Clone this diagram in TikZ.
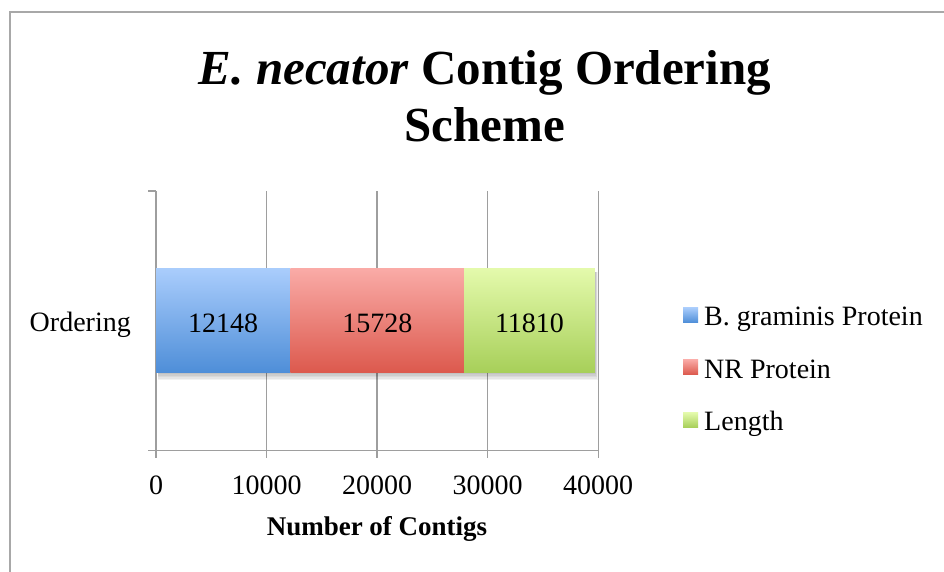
\documentclass[tikz,border=0pt]{standalone}
\usepackage{fontspec}
\setmainfont{Liberation Serif}

% palette
\definecolor{gridgray}{RGB}{158,158,158}
\definecolor{framegray}{RGB}{168,168,168}
\definecolor{blueTop}{RGB}{170,205,252}
\definecolor{blueBot}{RGB}{78,142,216}
\definecolor{redTop}{RGB}{250,171,167}
\definecolor{redBot}{RGB}{220,89,77}
\definecolor{greenTop}{RGB}{228,250,172}
\definecolor{greenBot}{RGB}{167,207,89}

\tikzset{
  frameline/.style={draw=framegray, line width=2.5pt},
  gridline/.style={draw=gridgray, line width=1.4pt},
  barseg/.style={rectangle, draw=none, inner sep=0pt, minimum height=104.4pt},
  legkey/.style={rectangle, draw=none, inner sep=0pt, minimum size=15pt},
  labeltext/.style={inner sep=0pt, font=\fontsize{28}{32}\selectfont},
  titletext/.style={inner sep=0pt, font=\fontsize{49}{57}\selectfont\bfseries},
  axistitle/.style={inner sep=0pt, font=\fontsize{27}{30}\selectfont\bfseries},
}

\begin{document}
\begin{tikzpicture}[x=1pt, y=-1pt]
\useasboundingbox (0,0) rectangle (944,571);
\fill[white] (0,0) rectangle (944,571);

% chart frame
\draw[frameline] (10,575) -- (10,12) -- (948,12);

% title
\node[titletext, anchor=base] (title1) at (485,84.3) {\textit{E. necator} Contig Ordering};
\node[titletext, anchor=base] (title2) at (485,141.7) {Scheme};

% gridlines and axes
\foreach \gx in {156,266.55,377.1,487.65,598.2}
  \draw[gridline] (\gx,191) -- (\gx,458);
\draw[gridline] (148,450.5) -- (598.2,450.5);
\draw[gridline] (148,191) -- (156,191);

% soft shadow under the bar
\foreach \k in {0,1,2,3,4}
  \fill[black, opacity=0.05] (158,272) rectangle (595.5+0.6*\k,374+1.6*\k);

% stacked bar
\node[barseg, top color=blueTop, bottom color=blueBot, minimum width=134.3pt] (bgp) at (223.15,320.5) {};
\node[barseg, top color=redTop, bottom color=redBot, minimum width=173.9pt] (nrp) at (377.25,320.5) {};
\node[barseg, top color=greenTop, bottom color=greenBot, minimum width=130.6pt] (len) at (529.5,320.5) {};

% segment values
\node[labeltext, anchor=base] (v1) at (223.15,332.5) {12148};
\node[labeltext, anchor=base] (v2) at (377.25,332.5) {15728};
\node[labeltext, anchor=base] (v3) at (529.5,332.5) {11810};

% category label
\node[labeltext, anchor=base east] (cat) at (131,331.7) {Ordering};

% value axis labels
\node[labeltext, anchor=base] (t0) at (156,494) {0};
\node[labeltext, anchor=base] (t1) at (266.55,494) {10000};
\node[labeltext, anchor=base] (t2) at (377.1,494) {20000};
\node[labeltext, anchor=base] (t3) at (487.65,494) {30000};
\node[labeltext, anchor=base] (t4) at (598.2,494) {40000};
\node[axistitle, anchor=base] (xtitle) at (377,535) {Number of Contigs};

% legend
\node[legkey, top color=blueTop, bottom color=blueBot] (k1) at (690.5,315) {};
\node[legkey, top color=redTop, bottom color=redBot] (k2) at (690.5,367) {};
\node[legkey, top color=greenTop, bottom color=greenBot] (k3) at (690.5,420) {};
\node[labeltext, anchor=base west] (l1) at (704,325) {B. graminis Protein};
\node[labeltext, anchor=base west] (l2) at (704,378) {NR Protein};
\node[labeltext, anchor=base west] (l3) at (704,430.5) {Length};
\end{tikzpicture}
\end{document}
